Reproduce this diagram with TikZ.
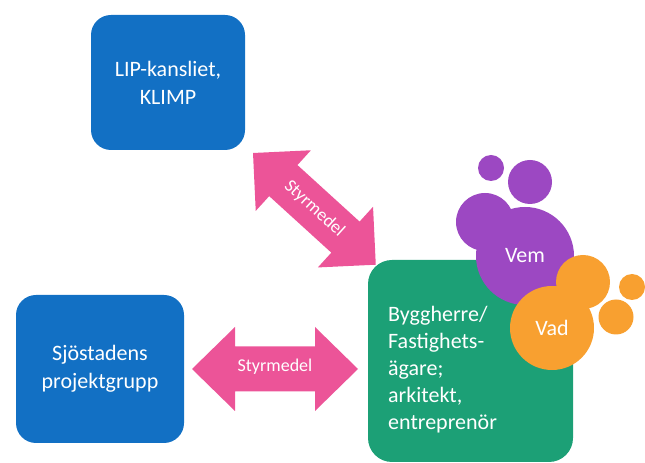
\documentclass[tikz,border=0pt]{standalone}
\usepackage{fontspec}
\setmainfont{Carlito}
\definecolor{boxblue}{RGB}{18,112,196}
\definecolor{arrowpink}{RGB}{236,84,152}
\definecolor{boxgreen}{RGB}{28,160,118}
\definecolor{bubpurple}{RGB}{156,72,194}
\definecolor{buborange}{RGB}{248,160,48}
\tikzset{
  bluebox/.style={fill=boxblue, rounded corners=20pt, text=white, align=center,
    font=\fontsize{22}{28}\selectfont, inner sep=0pt},
  greenbox/.style={fill=boxgreen, rounded corners=24pt, inner sep=0pt},
  arrowshape/.style={fill=arrowpink},
  arrowlabel/.style={text=white, font=\fontsize{18}{20}\selectfont, inner sep=0pt},
  purplebub/.style={circle, fill=bubpurple, inner sep=0pt, text=white, font=\fontsize{22}{24}\selectfont},
  orangebub/.style={circle, fill=buborange, inner sep=0pt, text=white, font=\fontsize{22}{24}\selectfont},
  greentext/.style={text=white, align=left, inner sep=0pt, font=\fontsize{22}{27}\selectfont}
}
\begin{document}
\begin{tikzpicture}[x=1pt,y=1pt]
\useasboundingbox (0,0) rectangle (645,463);
% boxes
\node[bluebox, minimum width=154pt, minimum height=135pt] (lip) at (168,380.5) {LIP-kansliet,\\KLIMP};
\node[bluebox, minimum width=168pt, minimum height=148pt] (sjo) at (100,94) {Sjöstadens\\projektgrupp};
% diagonal arrow
\coordinate (d1) at (253,310);
\begin{scope}[shift={(d1)}, rotate=-42.3]
  \fill[arrowshape] (0,0) -- (41,41) -- (41,21) -- (125,21) -- (125,41) -- (166,0)
    -- (125,-41) -- (125,-21) -- (41,-21) -- (41,-41) -- cycle;
  \node[arrowlabel, rotate=-42.3] (l1) at (83,0) {Styrmedel};
\end{scope}
% horizontal arrow
\coordinate (h1) at (192,94);
\begin{scope}[shift={(h1)}]
  \fill[arrowshape] (0,0) -- (43,42) -- (43,22.5) -- (123,22.5) -- (123,42) -- (166,0)
    -- (123,-42) -- (123,-22.5) -- (43,-22.5) -- (43,-42) -- cycle;
  \node[arrowlabel] (l2) at (83,2) {Styrmedel};
\end{scope}
% green box
\node[greenbox, minimum width=205pt, minimum height=202pt] (bygg) at (470.5,102) {};
\node[greentext, anchor=north west] (byggtxt) at (388,157) {Byggherre/\\Fastighets-\\ägare;\\arkitekt,\\entreprenör};
% purple bubbles
\node[purplebub, minimum size=26pt] (p1) at (491,295) {};
\node[purplebub, minimum size=44pt] (p2) at (530,281) {};
\node[purplebub, minimum size=58pt] (p3) at (485,241) {};
\node[purplebub, minimum size=98pt] (vem) at (525,207) {Vem};
% orange bubbles
\node[orangebub, minimum size=54pt] (o1) at (583,181) {};
\node[orangebub, minimum size=26pt] (o2) at (632,176) {};
\node[orangebub, minimum size=35pt] (o3) at (616,146) {};
\node[orangebub, minimum size=84pt] (vad) at (552,135) {Vad};
\end{tikzpicture}
\end{document}
